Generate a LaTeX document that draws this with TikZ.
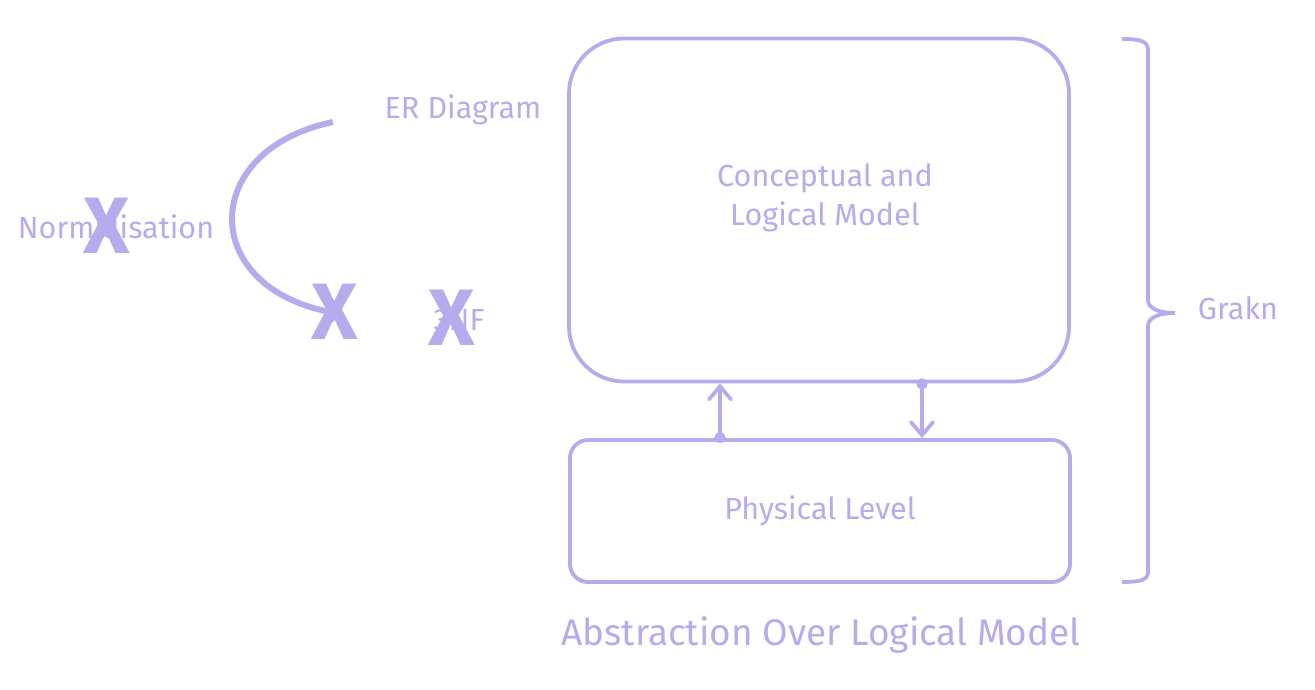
\documentclass[tikz,border=0pt]{standalone}
\usepackage{fontspec}
\setmainfont{Fira Sans}
\usetikzlibrary{arrows.meta, positioning, calc}
\definecolor{lav}{RGB}{180,172,237}
\tikzstyle{box} = [draw=lav, line width=3.8pt, minimum width=500pt]
\tikzstyle{lbl} = [text=lav, font=\fontsize{30.5}{39}\selectfont, align=center]
\tikzstyle{cross} = [text=lav, font=\bfseries\fontsize{80}{80}\selectfont, inner sep=0pt]
\tikzstyle{arrow} = [draw=lav, line width=3.8pt, shorten <=-5pt, {Circle[length=11pt]}-{Straight Barb[length=13pt,width=22pt,line cap=round]}]
\tikzstyle{curve} = [draw=lav, line width=6pt, -{Straight Barb[length=10pt,width=24pt]}]

\begin{document}
\begin{tikzpicture}[x=1pt,y=-1pt]
        \useasboundingbox (0,0) rectangle (1315,689);
        \node[box, minimum height=343pt, rounded corners=55pt] (concept) at (819,210) {};
        \node[lbl] (concepttxt) at (825,198) {Conceptual and\\Logical Model};
        \node[box, minimum height=142pt, rounded corners=18pt, lbl] (phys) at (820,511) {Physical Level};
        \coordinate (upx) at (720,0);
        \coordinate (downx) at (922,0);
        \draw[arrow] (phys.north -| upx) -- (concept.south -| upx);
        \draw[arrow] (concept.south -| downx) -- (phys.north -| downx);
        \node[lbl] (er) at (463,110) {ER Diagram};
        \node[lbl] (norm) at (116,227) {Normalisation};
        \node[lbl] (nf) at (459,320) {3NF};
        \coordinate (curvestart) at (333,122);
        \coordinate (curveend) at (342,314);
        \draw[curve] (curvestart) .. controls (198,150) and (198,290) .. (curveend);
        \node[cross] (crossnorm) at (107,226) {X};
        \node[cross] (crossarrow) at (335,312) {X};
        \node[cross] (crossnf) at (452,318) {X};
        \draw[draw=lav, line width=3.8pt] (1122,39) .. controls (1140,39) and (1148,41) .. (1148,50) -- (1148,300)
            .. controls (1148,309) and (1160,313) .. (1175,313)
            .. controls (1160,313) and (1148,317) .. (1148,326) -- (1148,572)
            .. controls (1148,580) and (1140,582) .. (1122,582);
        \node[lbl] (grakn) at (1238,308) {Grakn};
        \node[lbl, font=\fontsize{37}{44}\selectfont] (title) at (821,635) {Abstraction Over Logical Model};
    \end{tikzpicture}
\end{document}
